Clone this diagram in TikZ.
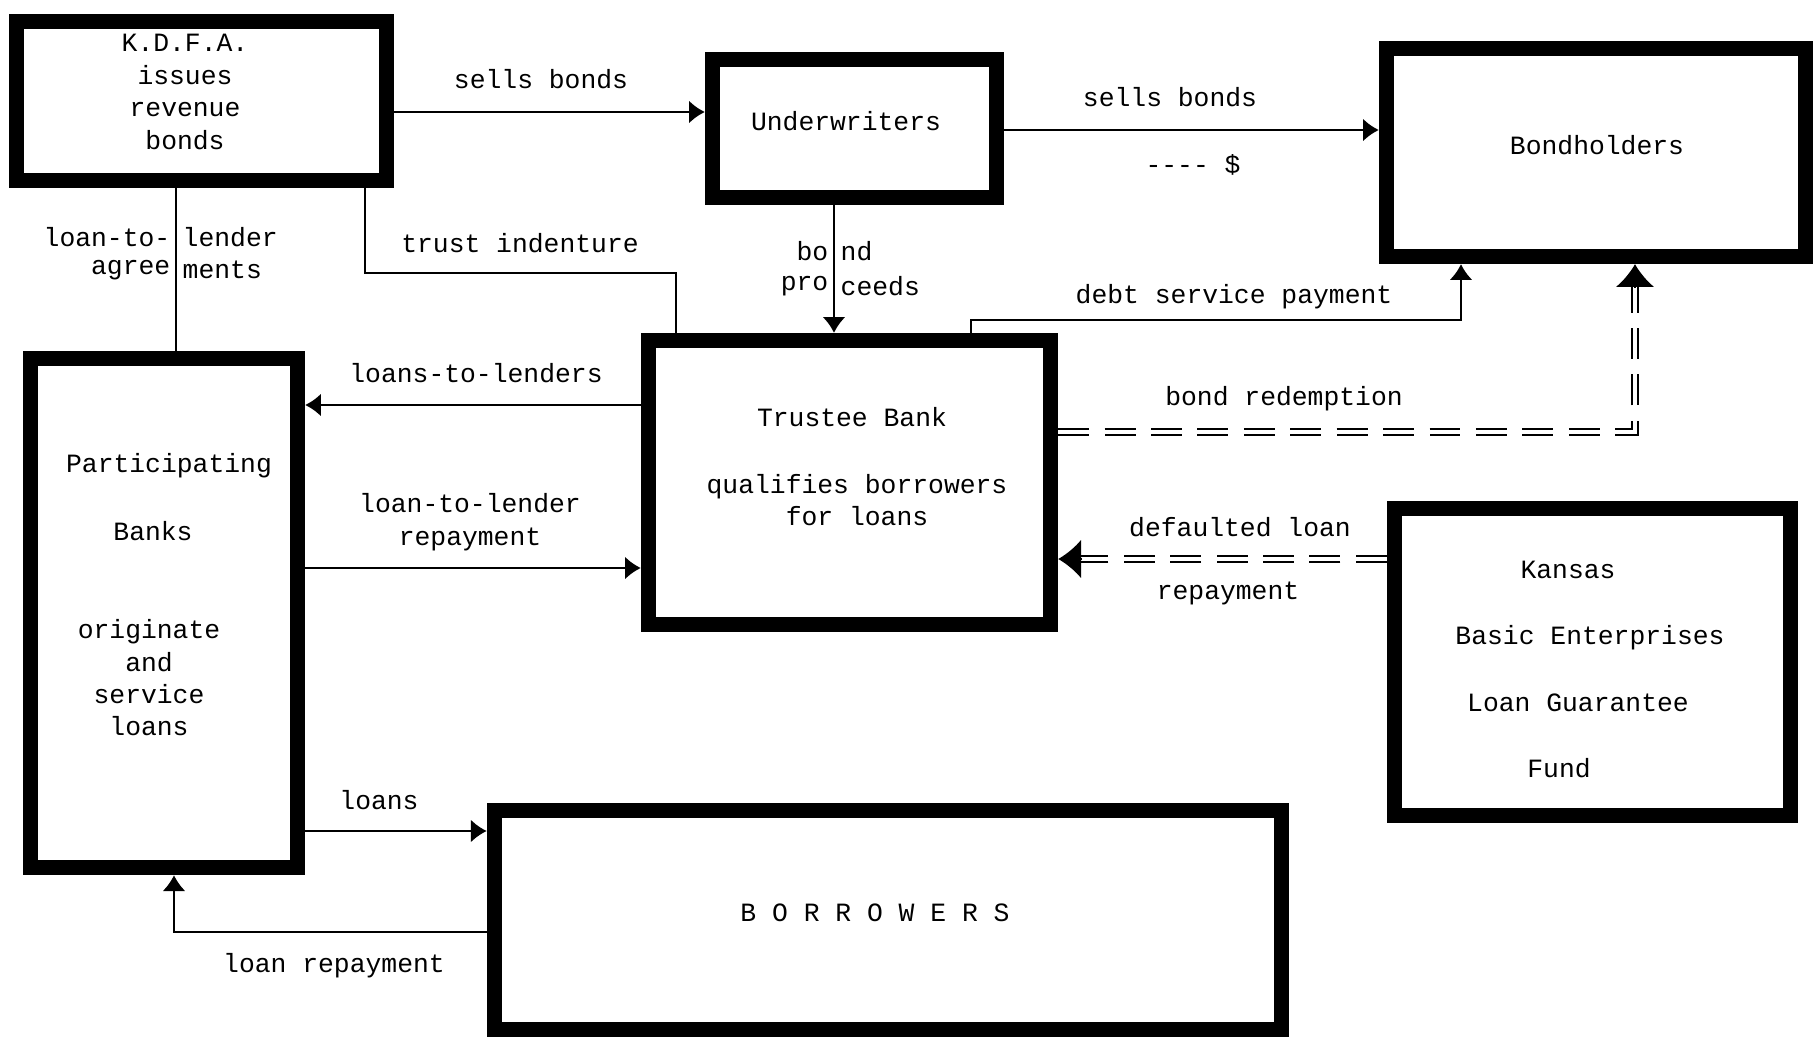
\documentclass[tikz,border=0pt]{standalone}
\usepackage{fontspec}
\setmainfont{Liberation Mono}
\usetikzlibrary{arrows.meta,calc}
\begin{document}
\begin{tikzpicture}[x=0.01cm,y=-0.01cm,
  font=\fontsize{7.5pt}{9.2pt}\selectfont,
  box/.style={draw,line width=4.3pt,inner sep=0pt},
  txt/.style={inner sep=0pt,align=center},
  conn/.style={line width=0.6pt},
  arr/.style={-{Latex[length=4.5pt,width=6.5pt]}},
  bigarr/.style={line width=0.6pt,-{Latex[length=6.5pt,width=11pt]}},
  dbl/.style={line width=0.5pt,double,double distance=1.2pt,dash pattern=on 8.8pt off 4.4pt}]
\useasboundingbox (0,0) rectangle (1817,1039);
% boxes
\node[box,minimum width=3.70cm,minimum height=1.59cm] (kdfa) at (201.5,101) {};
\node[box,minimum width=2.84cm,minimum height=1.38cm] (uw) at (854.5,128.5) {};
\node[box,minimum width=4.19cm,minimum height=2.08cm] (bh) at (1596,152.5) {};
\node[box,minimum width=2.67cm,minimum height=5.09cm] (pb) at (164,613) {};
\node[box,minimum width=4.02cm,minimum height=2.84cm] (tb) at (849.5,482.5) {};
\node[box,minimum width=3.96cm,minimum height=3.07cm] (kb) at (1592.5,662) {};
\node[box,minimum width=7.87cm,minimum height=2.19cm] (bw) at (888,920) {};
% box texts
\node[txt] (kdfa-t) at (185,92) {K.D.F.A.\\issues\\revenue\\bonds};
\node[txt] (uw-t) at (846,121) {Underwriters};
\node[txt] (bh-t) at (1597,145) {Bondholders};
\node[txt] (pb-t1) at (169,466) {Participating};
\node[txt] (pb-t2) at (153,531) {Banks};
\node[txt] (pb-t3) at (149,678) {originate\\and\\service\\loans};
\node[txt] (tb-t1) at (852,417) {Trustee Bank};
\node[txt] (tb-t2) at (857,500) {qualifies borrowers\\for loans};
\node[txt] (kb-t1) at (1568,570) {Kansas};
\node[txt] (kb-t2) at (1590,638) {Basic Enterprises};
\node[txt] (kb-t3) at (1578,703) {Loan Guarantee};
\node[txt] (kb-t4) at (1559,768) {Fund};
\node[txt] (bw-t) at (875,913) {B O R R O W E R S};
% connectors
\draw[conn,arr] (kdfa.east |- 0,112) -- (uw.west |- 0,112);
\draw[conn,arr] (uw.east |- 0,130) -- (bh.west |- 0,130);
\draw[conn,arr] (uw.south -| 834,0) -- (tb.north -| 834,0);
\draw[conn] (kdfa.south -| 365,0) -- ++(0,85) -| (tb.north -| 676,0);
\draw[conn] (kdfa.south -| 176,0) -- (pb.north -| 176,0);
\draw[conn,arr] (tb.west |- 0,405) -- (pb.east |- 0,405);
\draw[conn,arr] (pb.east |- 0,568) -- (tb.west |- 0,568);
\draw[conn,arr] (tb.north -| 971,0) -- ++(0,-13) -| (bh.south -| 1461,0);
\draw[dbl] (tb.east |- 0,432) -| ($(bh.south -| 1635,0)+(0,22)$);
\draw[bigarr] ($(bh.south -| 1635,0)+(0,24)$) -- (bh.south -| 1635,0);
\draw[dbl] (kb.west |- 0,559) -- ($(tb.east |- 0,559)+(22,0)$);
\draw[bigarr] ($(tb.east |- 0,559)+(24,0)$) -- (tb.east |- 0,559);
\draw[conn,arr] (pb.east |- 0,831) -- (bw.west |- 0,831);
\draw[conn,arr] (bw.west |- 0,932) -| (pb.south -| 174,0);
% connector labels
\node[txt] (l-sb1) at (541,79) {sells bonds};
\node[txt] (l-sb2) at (1170,97) {sells bonds};
\node[txt] (l-dollar) at (1193,165) {-{}-{}-{}- \$};
\node[txt,anchor=east] (l-bo) at (829,251) {bo};
\node[txt,anchor=west] (l-nd) at (840,251) {nd};
\node[txt,anchor=east] (l-pro) at (829,286) {pro};
\node[txt,anchor=west] (l-ceeds) at (840,286) {ceeds};
\node[txt] (l-ti) at (520,243) {trust indenture};
\node[txt,anchor=east] (l-lt1) at (171,237) {loan-to-};
\node[txt,anchor=west] (l-lt2) at (182,237) {lender};
\node[txt,anchor=east] (l-ag1) at (171,270) {agree};
\node[txt,anchor=west] (l-ag2) at (182,270) {ments};
\node[txt] (l-ltl) at (476,373) {loans-to-lenders};
\node[txt] (l-rep) at (470,522) {loan-to-lender\\repayment};
\node[txt] (l-dsp) at (1234,297) {debt service payment};
\node[txt] (l-br) at (1284,399) {bond redemption};
\node[txt] (l-dl) at (1240,527) {defaulted loan};
\node[txt] (l-dlr) at (1228,593) {repayment};
\node[txt] (l-loans) at (379,800) {loans};
\node[txt] (l-lr) at (334,966) {loan repayment};
\end{tikzpicture}
\end{document}
